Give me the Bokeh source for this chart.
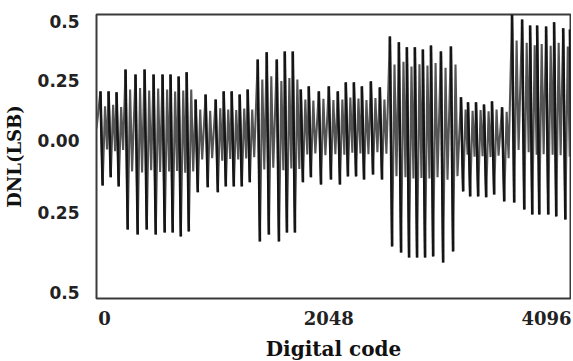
from bokeh.plotting import figure
from bokeh.models import FixedTicker, Range1d
from bokeh.embed import file_html
from bokeh.resources import INLINE

# ---- data ----
x_ticks = [0, 2048, 4096]
y_ticks = [0.5, 0.25, 0.0, -0.303, -0.639]
y_tick_labels = ["0.5", "0.25", "0.00", "0.25", "0.5"]

spike_codes = [-37, 37, 110,
               192, 283, 366, 448, 530, 603, 677, 750,
               832, 923, 1015, 1088, 1161, 1234, 1307,
               1399, 1481, 1573, 1646, 1719,
               1792, 1865, 1957, 2048, 2130, 2203, 2277, 2350, 2432, 2514,
               2606, 2688, 2761, 2834, 2907, 2981, 3072, 3163,
               3255, 3319, 3392, 3465, 3538, 3630,
               3721, 3813, 3886, 3950, 4032, 4105, 4188, 4250]

peak_dnl = [0.206, 0.206, 0.202,
            0.298, 0.277, 0.298, 0.277, 0.277, 0.277, 0.269, 0.286,
            0.172, 0.193, 0.172, 0.206, 0.206, 0.193, 0.214,
            0.340, 0.370, 0.340, 0.374, 0.374,
            0.214, 0.227, 0.206, 0.227, 0.206, 0.244, 0.244, 0.227, 0.248, 0.223,
            0.437, 0.412, 0.391, 0.391, 0.382, 0.399, 0.374, 0.395,
            0.181, 0.160, 0.160, 0.151, 0.164, 0.139,
            0.529, 0.508, 0.483, 0.483, 0.479, 0.496, 0.471, 0.466]

trough_dnl = [-0.189, -0.155, -0.193,
              -0.374, -0.395, -0.374, -0.395, -0.387, -0.387, -0.403, -0.382,
              -0.218, -0.197, -0.218, -0.193, -0.193, -0.193, -0.176,
              -0.424, -0.395, -0.424, -0.387, -0.387,
              -0.176, -0.155, -0.185, -0.164, -0.185, -0.151, -0.151, -0.164, -0.143, -0.164,
              -0.445, -0.471, -0.492, -0.492, -0.492, -0.487, -0.513, -0.466,
              -0.214, -0.235, -0.235, -0.239, -0.227, -0.256,
              -0.261, -0.290, -0.311, -0.311, -0.311, -0.319, -0.332, -0.311]

inner_hi = [0.143, 0.150, 0.140,
            0.214, 0.220, 0.210, 0.218, 0.214, 0.205, 0.210, 0.214,
            0.130, 0.125, 0.135, 0.130, 0.128, 0.134, 0.130,
            0.256, 0.270, 0.250, 0.262, 0.256,
            0.172, 0.168, 0.175, 0.170, 0.172, 0.180, 0.176, 0.170, 0.178, 0.172,
            0.319, 0.330, 0.310, 0.320, 0.315, 0.325, 0.305, 0.319,
            0.130, 0.125, 0.128, 0.122, 0.130, 0.120,
            0.420, 0.410, 0.400, 0.405, 0.398, 0.410, 0.395, 0.400]

inner_lo = [-0.038, -0.045, -0.040,
            -0.130, -0.135, -0.125, -0.132, -0.130, -0.128, -0.136, -0.130,
            -0.080, -0.075, -0.085, -0.078, -0.080, -0.076, -0.070,
            -0.122, -0.115, -0.125, -0.118, -0.120,
            -0.059, -0.055, -0.062, -0.058, -0.060, -0.052, -0.055, -0.058, -0.050, -0.056,
            -0.150, -0.155, -0.160, -0.158, -0.160, -0.155, -0.165, -0.150,
            -0.060, -0.068, -0.066, -0.070, -0.064, -0.075,
            -0.040, -0.050, -0.060, -0.058, -0.060, -0.062, -0.068, -0.060]

# ---- build the trace ----
TROUGH_LAG, HI_LAG, LO_LAG = 20, 42, 60
trace_x, trace_y = [-73], [0.05]
for c, pk, tr, hi, lo in zip(spike_codes, peak_dnl, trough_dnl, inner_hi, inner_lo):
    trace_x += [c, c + TROUGH_LAG, c + HI_LAG, c + LO_LAG]
    trace_y += [pk, tr, hi, lo]
trough_x = [c + TROUGH_LAG for c in spike_codes]

p = figure(frame_width=474, frame_height=284,
           x_range=Range1d(-73, 4255), y_range=Range1d(-0.664, 0.529),
           output_backend="svg", toolbar_location=None,
           min_border_left=90, min_border_right=1, min_border_top=14, min_border_bottom=0)
p.background_fill_color = "white"
p.border_fill_color = "white"
p.outline_line_color = "#3a3a3a"
p.outline_line_width = 2
p.grid.visible = False

p.line(trace_x, trace_y, line_color="#555555", line_width=2.1)
p.segment(x0=spike_codes, y0=peak_dnl, x1=trough_x, y1=trough_dnl,
          line_color="#151515", line_width=2.6)

p.xaxis.ticker = FixedTicker(ticks=x_ticks)
p.yaxis.ticker = FixedTicker(ticks=y_ticks)
p.yaxis.major_label_overrides = {t: s for t, s in zip(y_ticks, y_tick_labels)}
for ax in (p.xaxis, p.yaxis):
    ax.axis_line_color = None
    ax.major_tick_line_color = None
    ax.minor_tick_line_color = None
    ax.major_label_text_font_style = "bold"
    ax.axis_label_text_font = "DejaVu Serif"
    ax.axis_label_text_font_style = "bold"
    ax.axis_label_text_color = "#111111"
    ax.major_label_text_color = "#222222"

p.xaxis.axis_label = "Digital code"
p.xaxis.axis_label_text_font_size = "20px"
p.xaxis.major_label_text_font = "DejaVu Serif"
p.xaxis.major_label_text_font_size = "18px"
p.xaxis.major_label_standoff = 6
p.xaxis.axis_label_standoff = 9

p.yaxis.axis_label = "DNL(LSB)"
p.yaxis.axis_label_text_font_size = "18px"
p.yaxis.major_label_text_font = "DejaVu Sans"
p.yaxis.major_label_text_font_size = "17px"
p.yaxis.major_label_standoff = 11
p.yaxis.axis_label_standoff = 10

open("out.html", "w").write(file_html(p, INLINE))
